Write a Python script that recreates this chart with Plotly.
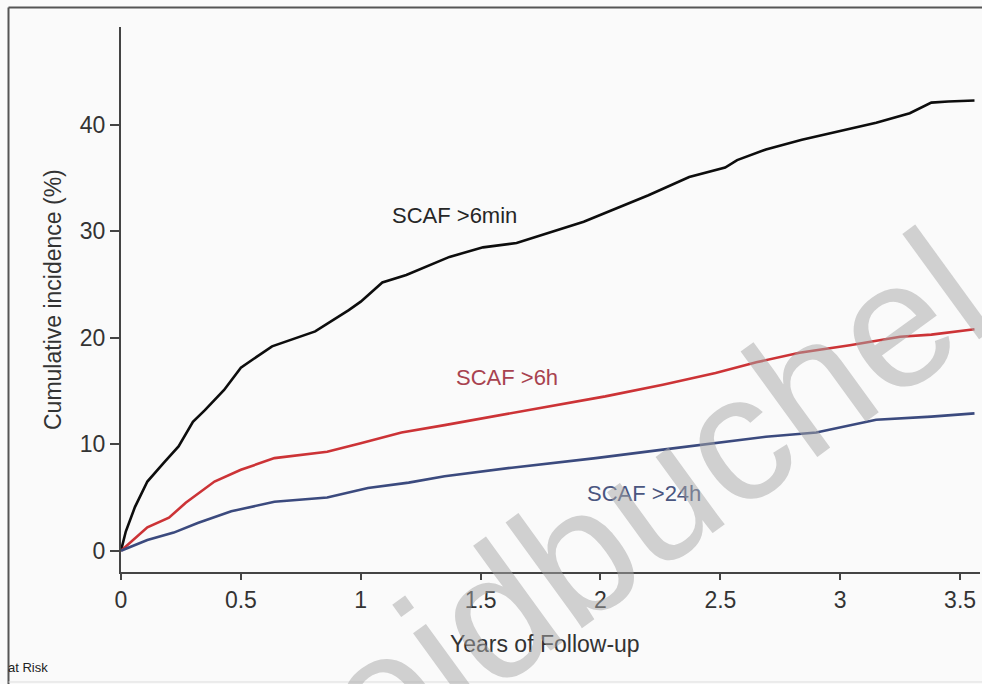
import plotly.graph_objects as go

# ---- data ----
years_6min = [0, 0.02, 0.058, 0.11, 0.18, 0.24, 0.30, 0.35, 0.43, 0.50, 0.63, 0.71, 0.81, 0.95, 1.0,
              1.09, 1.19, 1.37, 1.51, 1.65, 1.79, 1.93, 2.07, 2.20, 2.37, 2.52, 2.57, 2.69, 2.84,
              2.98, 3.15, 3.29, 3.38, 3.45, 3.56]
inc_6min = [0, 1.8, 4.1, 6.5, 8.3, 9.8, 12.1, 13.2, 15.1, 17.2, 19.2, 19.8, 20.6, 22.6, 23.4,
            25.2, 25.9, 27.6, 28.5, 28.9, 29.9, 30.9, 32.2, 33.4, 35.1, 36.0, 36.7, 37.7, 38.6,
            39.3, 40.2, 41.1, 42.1, 42.2, 42.3]

years_6h = [0, 0.11, 0.2, 0.27, 0.39, 0.50, 0.64, 0.75, 0.86, 1.0, 1.17, 1.35, 1.70, 2.02, 2.26,
            2.48, 2.65, 2.83, 3.04, 3.25, 3.38, 3.56]
inc_6h = [0, 2.2, 3.1, 4.5, 6.5, 7.6, 8.7, 9.0, 9.3, 10.1, 11.1, 11.8, 13.2, 14.5, 15.6,
          16.7, 17.7, 18.6, 19.3, 20.1, 20.3, 20.8]

years_24h = [0, 0.11, 0.22, 0.32, 0.46, 0.64, 0.86, 1.03, 1.2, 1.35, 1.63, 1.98, 2.26, 2.48,
             2.69, 2.9, 3.15, 3.38, 3.56]
inc_24h = [0, 1.0, 1.7, 2.6, 3.7, 4.6, 5.0, 5.9, 6.4, 7.0, 7.8, 8.7, 9.5, 10.1,
           10.7, 11.1, 12.3, 12.6, 12.9]

series_names = ["SCAF >6min", "SCAF >6h", "SCAF >24h"]
x_ticks = [0, 0.5, 1, 1.5, 2, 2.5, 3, 3.5]
x_tick_labels = ["0", "0.5", "1", "1.5", "2", "2.5", "3", "3.5"]
y_ticks = [0, 10, 20, 30, 40]
y_tick_labels = ["0", "10", "20", "30", "40"]

FONT = "Liberation Sans, Arial, sans-serif"
line_colors = ["#0d0d0d", "#cc3336", "#3b4a7e"]
label_colors = ["#262626", "#a8424f", "#4a5680"]

fig = go.Figure()
for xs, ys, name, col in zip([years_6min, years_6h, years_24h], [inc_6min, inc_6h, inc_24h],
                             series_names, line_colors):
    fig.add_trace(go.Scatter(x=xs, y=ys, mode="lines", name=name,
                             line=dict(color=col, width=2.6), showlegend=False))

# curve labels
label_pos = [(1.39, 31.5), (1.61, 16.3), (2.18, 5.4)]
for (lx, ly), name, col in zip(label_pos, series_names, label_colors):
    fig.add_annotation(x=lx, y=ly, xref="x", yref="y", text=name, showarrow=False,
                       font=dict(family=FONT, size=22, color=col))

W, H = 982, 684
L, R, T, B = 121, 2, 27, 112
pw, ph = W - L - R, H - T - B


def px(x):
    return (x - L) / pw


def py(y):
    return (H - B - y) / ph


# axis titles
fig.add_annotation(x=px(545), y=py(659), xref="paper", yref="paper", text="Years of Follow-up",
                   showarrow=False, font=dict(family=FONT, size=23, color="#333333"))
fig.add_annotation(x=px(38), y=py(300), xref="paper", yref="paper", text="Cumulative incidence (%)",
                   showarrow=False, textangle=-90, font=dict(family=FONT, size=23, color="#333333"))

# watermark
fig.add_annotation(x=px(600), y=py(537), xref="paper", yref="paper", text="Heidbuchel",
                   showarrow=False, textangle=-36, xanchor="center", yanchor="middle",
                   font=dict(family=FONT, size=180, color="rgba(165,165,165,0.5)"))

# "at Risk" fragment
fig.add_annotation(x=px(50), y=py(677), xref="paper", yref="paper", text="at Risk",
                   showarrow=False, xanchor="right",
                   font=dict(family=FONT, size=13, color="#222222"))

# outer frame
fig.add_shape(type="line", xref="paper", yref="paper", x0=px(8.5), x1=px(8.5), y0=py(7.5), y1=py(684),
              line=dict(color="#555555", width=2))
fig.add_shape(type="line", xref="paper", yref="paper", x0=px(8.5), x1=px(982), y0=py(7.5), y1=py(7.5),
              line=dict(color="#555555", width=2))
fig.add_shape(type="line", xref="paper", yref="paper", x0=px(8.5), x1=px(982), y0=py(682), y1=py(682),
              line=dict(color="#dddddd", width=1))

fig.update_layout(
    width=W, height=H,
    margin=dict(l=L, r=R, t=T, b=B),
    paper_bgcolor="#fafafa", plot_bgcolor="#fafafa",
    font=dict(family=FONT, size=23, color="#333333"),
)
fig.update_xaxes(range=[0, 3.583], tickvals=x_ticks, ticktext=x_tick_labels, showgrid=False,
                 zeroline=False, showline=True, linecolor="#444444", linewidth=2,
                 ticks="outside", ticklen=6, tickwidth=1.5, tickcolor="#444444",
                 tickfont=dict(family=FONT, size=23, color="#333333"))
fig.update_yaxes(range=[-2, 49.2], tickvals=y_ticks, ticktext=y_tick_labels, showgrid=False,
                 zeroline=False, showline=True, linecolor="#444444", linewidth=2,
                 ticks="outside", ticklen=9, tickwidth=1.5, tickcolor="#444444",
                 tickfont=dict(family=FONT, size=23, color="#333333"))

fig.write_html("out.html")
